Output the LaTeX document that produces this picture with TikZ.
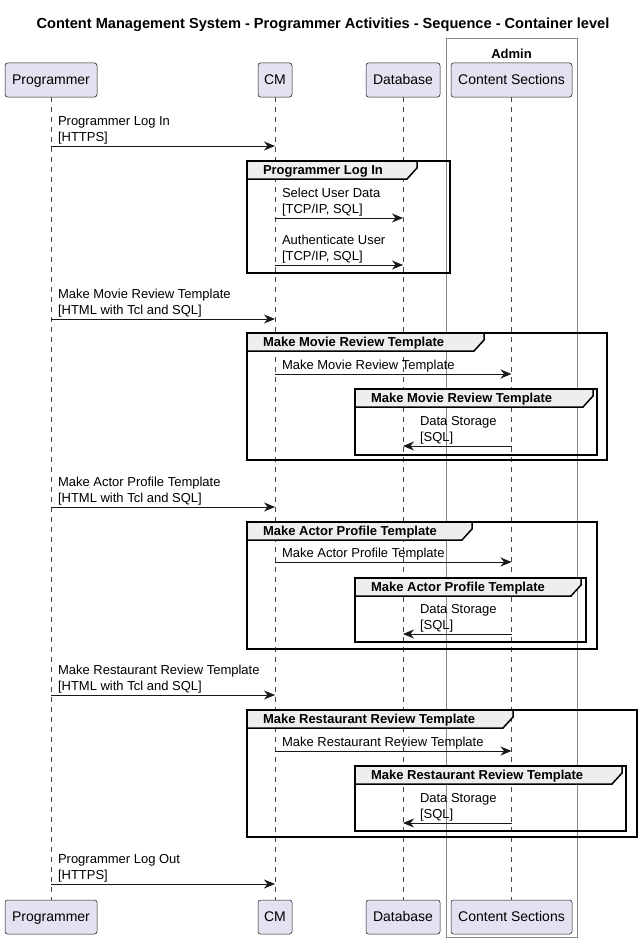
\documentclass[tikz,border=0pt]{standalone}
\usepackage{fontspec}
\setmainfont{Liberation Sans}
\usetikzlibrary{arrows.meta}
\definecolor{partfill}{HTML}{E2E2F0}
\definecolor{lineblk}{HTML}{181818}
\definecolor{grpfill}{HTML}{EEEEEE}
\definecolor{boxgray}{HTML}{888888}
% group frame: x1 y1 x2 y2 tab-end label
\newcommand{\grpbox}[6]{%
  \draw[grpframe] (#1,#2) rectangle (#3,#4);
  \draw[grptab] (#1,#2) -- (#5,#2) -- (#5,#2+7) -- (#5-10,#2+18) -- (#1,#2+18) -- cycle;
  \node[grplabel] at (#1+16,#2+10) {#6};}
\begin{document}
\begin{tikzpicture}[x=1pt,y=-1pt,inner sep=0pt,outer sep=0pt,
part/.style={draw=lineblk,fill=partfill,rounded corners=2.5pt,line width=0.5pt,minimum height=34pt,text height=10pt,text depth=1pt,font=\fontsize{14}{16}\selectfont},
life/.style={draw=lineblk!80,dash pattern=on 5pt off 5pt,line width=0.5pt},
msg/.style={draw=lineblk,line width=1pt,-{Stealth[length=11pt,width=9pt,inset=3.5pt]}},
msgtext/.style={anchor=south west,align=left,font=\fontsize{13}{16}\selectfont},
grpframe/.style={draw=black,line width=1.5pt},
grptab/.style={draw=black,line width=1.5pt,fill=grpfill},
grplabel/.style={anchor=west,font=\bfseries\fontsize{13}{16}\selectfont}]
\useasboundingbox[fill=white] (0,0) rectangle (641,942);
\node[font=\bfseries\fontsize{14.6}{17}\selectfont] (title) at (323,25) {Content Management System - Programmer Activities - Sequence - Container level};
% box round Content Sections
\draw[draw=boxgray,line width=0.7pt] (446,38) rectangle (577,937);
\node[font=\bfseries\fontsize{13}{16}\selectfont] (admin) at (511.5,53.5) {Admin};
% participants
\node[part,minimum width=92pt] (progT) at (51,80) {Programmer};
\node[part,minimum width=34pt] (cmT) at (275,80) {CM};
\node[part,minimum width=74pt] (dbT) at (403,80) {Database};
\node[part,minimum width=121pt] (csT) at (511.5,80) {Content Sections};
\node[part,minimum width=92pt] (progB) at (51,917) {Programmer};
\node[part,minimum width=34pt] (cmB) at (275,917) {CM};
\node[part,minimum width=74pt] (dbB) at (403,917) {Database};
\node[part,minimum width=121pt] (csB) at (511.5,917) {Content Sections};
\draw[life] (progT) -- (progB);
\draw[life] (cmT) -- (cmB);
\draw[life] (dbT) -- (dbB);
\draw[life] (csT) -- (csB);
% groups
\grpbox{247}{161}{450}{273}{417}{Programmer Log In}
\grpbox{247}{333}{607}{460}{484}{Make Movie Review Template}
\grpbox{355}{389}{597}{455}{593}{Make Movie Review Template}
\grpbox{247}{522}{597}{649}{472}{Make Actor Profile Template}
\grpbox{355}{578}{586}{642}{581}{Make Actor Profile Template}
\grpbox{247}{710}{637}{837}{513}{Make Restaurant Review Template}
\grpbox{355}{766}{626}{831}{622}{Make Restaurant Review Template}
% messages
\node[msgtext] (t1) at ([xshift=7pt]progT |- 0,144) {Programmer Log In\\{}[HTTPS]};
\draw[msg] (progT |- 0,146) -- (cmT |- 0,146);
\node[msgtext] (t2) at ([xshift=7pt]cmT |- 0,216) {Select User Data\\{}[TCP/IP, SQL]};
\draw[msg] (cmT |- 0,218) -- (dbT |- 0,218);
\node[msgtext] (t3) at ([xshift=7pt]cmT |- 0,263) {Authenticate User\\{}[TCP/IP, SQL]};
\draw[msg] (cmT |- 0,265) -- (dbT |- 0,265);
\node[msgtext] (t4) at ([xshift=7pt]progT |- 0,317) {Make Movie Review Template\\{}[HTML with Tcl and SQL]};
\draw[msg] (progT |- 0,319) -- (cmT |- 0,319);
\node[msgtext] (t5) at ([xshift=7pt]cmT |- 0,372) {Make Movie Review Template};
\draw[msg] (cmT |- 0,374) -- (csT |- 0,374);
\node[msgtext] (t6) at ([xshift=17pt]dbT |- 0,444) {Data Storage\\{}[SQL]};
\draw[msg] (csT |- 0,446) -- (dbT |- 0,446);
\node[msgtext] (t7) at ([xshift=7pt]progT |- 0,505) {Make Actor Profile Template\\{}[HTML with Tcl and SQL]};
\draw[msg] (progT |- 0,507) -- (cmT |- 0,507);
\node[msgtext] (t8) at ([xshift=7pt]cmT |- 0,560) {Make Actor Profile Template};
\draw[msg] (cmT |- 0,562) -- (csT |- 0,562);
\node[msgtext] (t9) at ([xshift=17pt]dbT |- 0,632) {Data Storage\\{}[SQL]};
\draw[msg] (csT |- 0,634) -- (dbT |- 0,634);
\node[msgtext] (t10) at ([xshift=7pt]progT |- 0,693) {Make Restaurant Review Template\\{}[HTML with Tcl and SQL]};
\draw[msg] (progT |- 0,695) -- (cmT |- 0,695);
\node[msgtext] (t11) at ([xshift=7pt]cmT |- 0,749) {Make Restaurant Review Template};
\draw[msg] (cmT |- 0,751) -- (csT |- 0,751);
\node[msgtext] (t12) at ([xshift=17pt]dbT |- 0,821) {Data Storage\\{}[SQL]};
\draw[msg] (csT |- 0,823) -- (dbT |- 0,823);
\node[msgtext] (t13) at ([xshift=7pt]progT |- 0,882) {Programmer Log Out\\{}[HTTPS]};
\draw[msg] (progT |- 0,884) -- (cmT |- 0,884);
\end{tikzpicture}
\end{document}
